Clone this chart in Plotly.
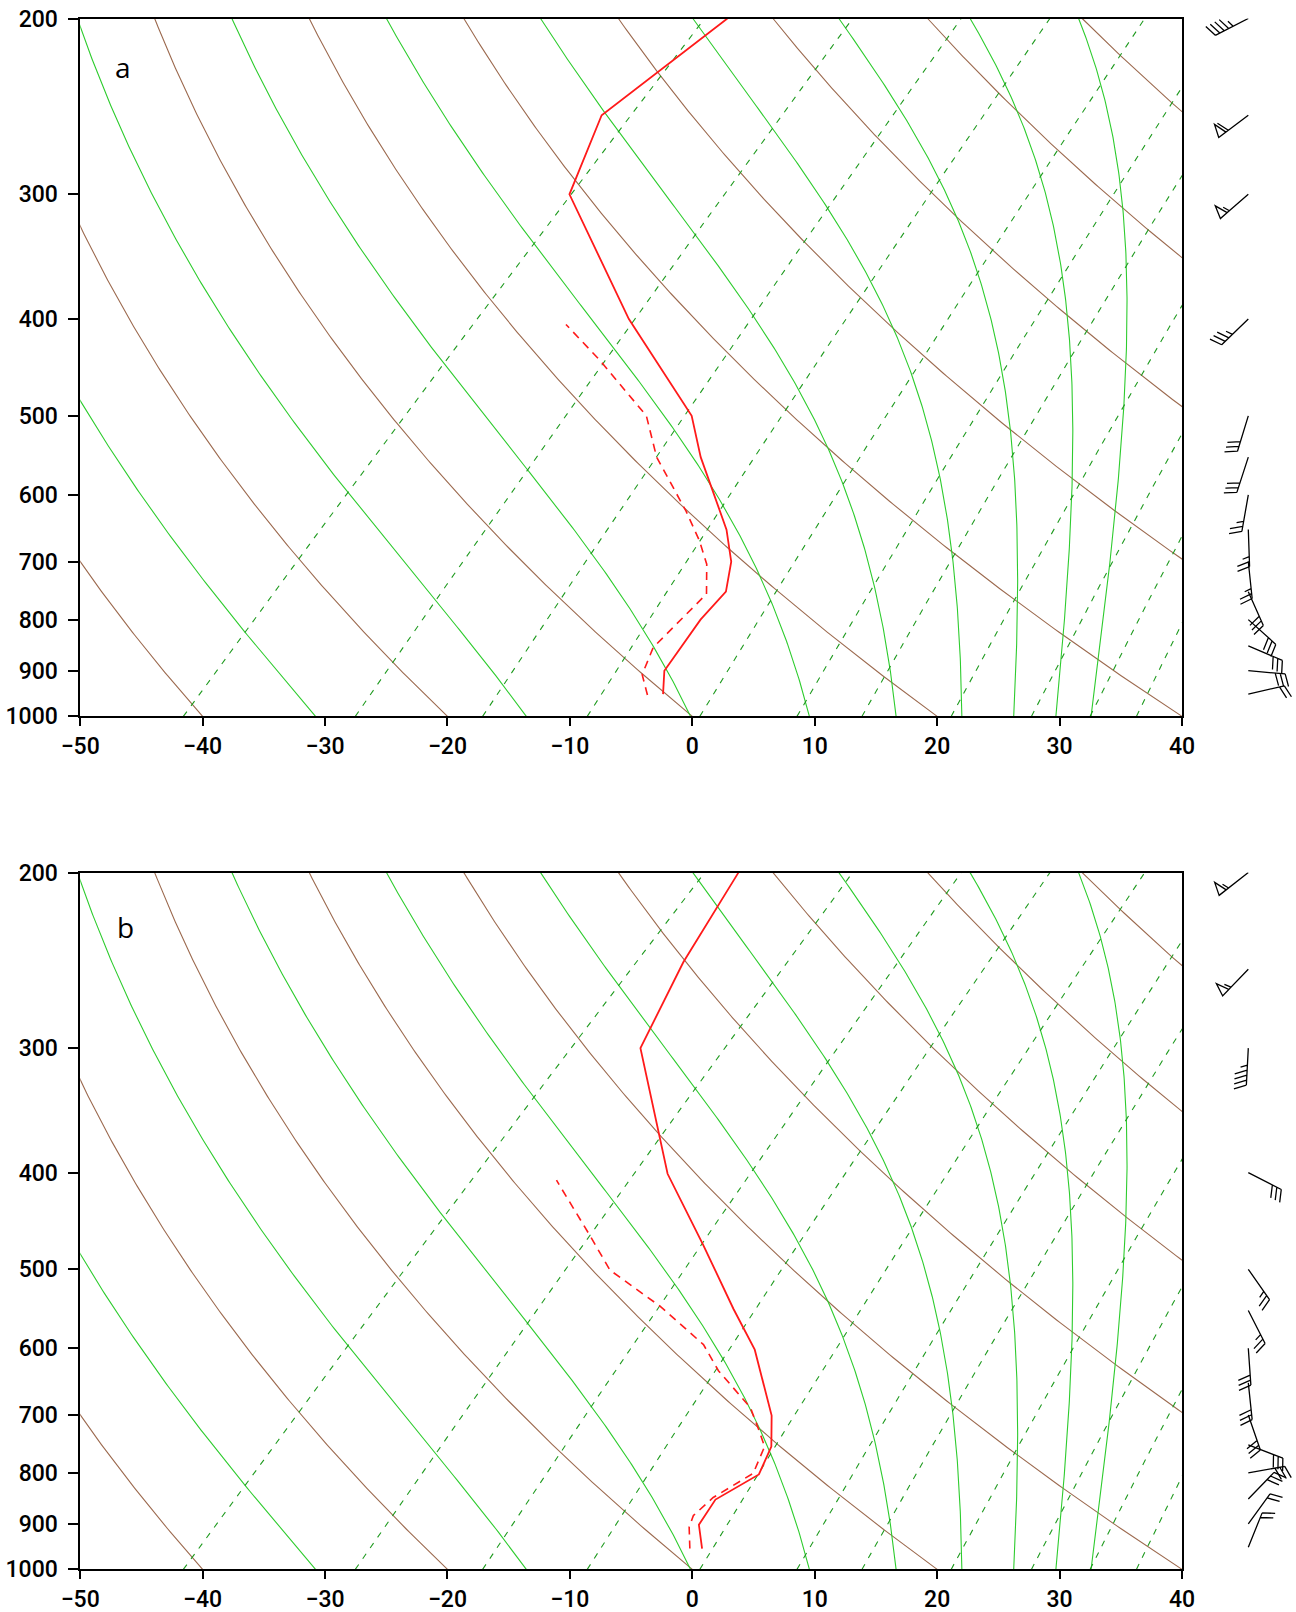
import numpy as np
import plotly.graph_objects as go

# ---------------- skew-T geometry / axes ----------------
SKEW = 35.27                      # skew of the temperature axis (°C per ln(1000/p))
P_TICKS = [200, 300, 400, 500, 600, 700, 800, 900, 1000]
P_LABELS = [str(v) for v in P_TICKS]
T_TICKS = [-50, -40, -30, -20, -10, 0, 10, 20, 30, 40]

# ---------------- background lines ----------------
DRY_THETA_C = [-40, -20, 0, 20, 40, 60, 80, 100, 120]          # dry adiabats (°C)
MOIST_THETAE_C = [-30, -10, 10, 30, 50, 70, 90, 110, 130]      # moist adiabats (theta-e, °C)
MIXR_GKG = [0.1, 0.4, 1, 2, 4, 7, 10, 16, 24, 32, 40]          # mixing ratio lines (g/kg)

# ---------------- panel a sounding ----------------
P_A_T = [950, 900, 800, 750, 700, 650, 550, 500, 400, 300, 250, 200]
T_A = [-4.2, -6.0, -7.2, -7.4, -9.4, -12.4, -20.4, -24.5, -37.5, -52.5, -56.3, -53.9]
P_A_TD = [952, 908, 853, 754, 704, 667, 623, 550, 500, 440, 405]
TD_A = [-5.4, -7.5, -8.8, -8.8, -11.2, -13.7, -17.2, -24.0, -28.2, -36.5, -42.2]

# ---------------- panel b sounding ----------------
P_B_T = [953, 902, 851, 803, 753, 701, 602, 548, 473, 401, 300, 246, 200]
T_B = [-0.9, -3.1, -3.8, -2.3, -3.55, -6.05, -12.8, -17.85, -25.5, -34.25, -46.7, -50.2, -53.0]
P_B_TD = [953, 907, 883, 847, 801, 753, 722, 688, 632, 595, 545, 501, 463, 407]
TD_B = [-1.9, -3.7, -4.3, -4.15, -2.85, -4.1, -6.1, -8.45, -14.05, -17.4, -24.0, -31.1, -35.5, -42.8]

# ---------------- winds (direction from, speed) ----------------
P_WIND = [200, 250, 300, 400, 500, 550, 600, 650, 700, 750, 800, 850, 900, 950]
DIR_A = [243, 233, 229, 226, 197, 198, 190, 178, 174, 156, 132, 113, 95, 77]
SPD_A = [45, 60, 55, 35, 30, 30, 25, 25, 25, 30, 30, 30, 30, 20]
DIR_B = [232, 224, 183, 117, 145, 153, 176, 174, 161, 111, 80, 44, 36, 22]
SPD_B = [55, 55, 45, 30, 25, 25, 30, 30, 30, 30, 30, 30, 20, 20]

# ---------------- thermodynamics ----------------
KAPPA = 0.2857
LV_CP = 2630.0


def es(tc):
    return 6.112 * np.exp(17.67 * tc / (tc + 243.5))


def skew_x(tc, p):
    return np.asarray(tc, float) + SKEW * np.log(1000.0 / np.asarray(p, float))


def dry_T(theta_c, p):
    return (theta_c + 273.15) * (p / 1000.0) ** KAPPA - 273.15


def mixr_T(w, p):
    e = w * p / (622.0 + w)
    lg = np.log(e / 6.112)
    return 243.5 * lg / (17.67 - lg)


def moist_T(thetae_c, p):
    target = thetae_c + 273.15
    lo = np.full_like(p, -130.0)
    hi = np.full_like(p, 50.0)
    for _ in range(60):
        mid = 0.5 * (lo + hi)
        T = mid + 273.15
        e = es(mid)
        rs = 0.622 * e / (p - e)
        the = T * (1000.0 / p) ** KAPPA * np.exp(LV_CP * rs / T)
        lo = np.where(the < target, mid, lo)
        hi = np.where(the >= target, mid, hi)
    return 0.5 * (lo + hi)


p_bg = np.geomspace(1000, 200, 241)

BROWN = "#9c6a4f"
GREEN = "#2ecc2e"
DGREEN = "#1f9a1f"
RED = "#ff1a1a"

# ---------------- layout geometry ----------------
W, H = 1296, 1612
X_DOM = [80.2 / W, 1182.0 / W]
YA_DOM = [1 - 716.4 / H, 1 - 18.5 / H]
YB_DOM = [1 - 1569.4 / H, 1 - 872.6 / H]
STATION_X = 1248.3 / W

fig = go.Figure()


def add_panel(xa, ya, pT, T, pTd, Td):
    for th in DRY_THETA_C:
        fig.add_trace(go.Scatter(x=skew_x(dry_T(th, p_bg), p_bg), y=p_bg, mode="lines",
                                 line=dict(color=BROWN, width=1.1), xaxis=xa, yaxis=ya,
                                 hoverinfo="skip", showlegend=False))
    for the in MOIST_THETAE_C:
        fig.add_trace(go.Scatter(x=skew_x(moist_T(the, p_bg), p_bg), y=p_bg, mode="lines",
                                 line=dict(color=GREEN, width=1.1), xaxis=xa, yaxis=ya,
                                 hoverinfo="skip", showlegend=False))
    for w in MIXR_GKG:
        fig.add_trace(go.Scatter(x=skew_x(mixr_T(w, p_bg), p_bg), y=p_bg, mode="lines",
                                 line=dict(color=DGREEN, width=1.1, dash="6px,7px"),
                                 xaxis=xa, yaxis=ya, hoverinfo="skip", showlegend=False))
    fig.add_trace(go.Scatter(x=skew_x(Td, pTd), y=pTd, mode="lines",
                             line=dict(color=RED, width=1.6, dash="8px,6px"),
                             xaxis=xa, yaxis=ya, showlegend=False))
    fig.add_trace(go.Scatter(x=skew_x(T, pT), y=pT, mode="lines",
                             line=dict(color=RED, width=1.8),
                             xaxis=xa, yaxis=ya, showlegend=False))


add_panel("x", "y", P_A_T, T_A, P_A_TD, TD_A)
add_panel("x2", "y2", P_B_T, T_B, P_B_TD, TD_B)


def barb_path(direction, speed, L=37.0, flen=13.0, gap=5.0, pw=9.0, tilt=20.0):
    az = np.radians(direction)
    ux, uy = np.sin(az), np.cos(az)
    px, py = uy, -ux
    t = np.radians(tilt)
    fx = np.cos(t) * px + np.sin(t) * ux
    fy = np.cos(t) * py + np.sin(t) * uy
    parts = [f"M0,0 L{L * ux:.2f},{L * uy:.2f}"]
    s = int(5 * round(speed / 5.0))
    n50, s = divmod(s, 50)
    n10, s = divmod(s, 10)
    n5 = s // 5
    pos = L
    for _ in range(n50):
        b1 = pos - pw
        mid = pos - 0.5 * pw
        ax_, ay_ = mid * ux + flen * px, mid * uy + flen * py
        parts.append(f"M{pos * ux:.2f},{pos * uy:.2f} L{ax_:.2f},{ay_:.2f} "
                     f"L{b1 * ux:.2f},{b1 * uy:.2f} Z")
        pos = b1 - gap * 0.6
    for _ in range(n10):
        parts.append(f"M{pos * ux:.2f},{pos * uy:.2f} L{pos * ux + flen * fx:.2f},{pos * uy + flen * fy:.2f}")
        pos -= gap
    for _ in range(n5):
        if n50 == 0 and n10 == 0:
            pos -= gap
        parts.append(f"M{pos * ux:.2f},{pos * uy:.2f} "
                     f"L{pos * ux + 0.55 * flen * fx:.2f},{pos * uy + 0.55 * flen * fy:.2f}")
        pos -= gap
    return " ".join(parts)


shapes = []
for yref, dirs, spds in (("y", DIR_A, SPD_A), ("y2", DIR_B, SPD_B)):
    for p, d, s in zip(P_WIND, dirs, spds):
        shapes.append(dict(type="path", xref="paper", yref=yref, xsizemode="pixel",
                           ysizemode="pixel", xanchor=STATION_X, yanchor=p,
                           path=barb_path(d, s), line=dict(color="black", width=1.3)))

TICKFONT = dict(family="Roboto, Liberation Sans, Arial, sans-serif", size=23, color="black",
                weight=500)


def xaxis_cfg(anchor):
    return dict(domain=X_DOM, range=[-50, 40], tickmode="array", tickvals=T_TICKS,
                ticks="outside", ticklen=8, tickwidth=1.5, tickcolor="black",
                showline=True, linewidth=1.5, linecolor="black", mirror=True,
                showgrid=False, zeroline=False, anchor=anchor, tickfont=TICKFONT,
                ticklabelstandoff=0, automargin=False, fixedrange=True)


def yaxis_cfg(dom, anchor):
    return dict(domain=dom, type="log", range=[3, np.log10(200)], tickmode="array",
                tickvals=P_TICKS, ticktext=P_LABELS, ticks="outside", ticklen=10,
                tickwidth=1.5, tickcolor="black", showline=True, linewidth=1.5,
                linecolor="black", mirror=True, showgrid=False, zeroline=False,
                anchor=anchor, tickfont=TICKFONT, ticklabelstandoff=6,
                automargin=False, fixedrange=True)


fig.update_layout(
    width=W, height=H, margin=dict(l=0, r=0, t=0, b=0, pad=0, autoexpand=False),
    paper_bgcolor="white", plot_bgcolor="white", showlegend=False,
    xaxis=xaxis_cfg("y"), yaxis=yaxis_cfg(YA_DOM, "x"),
    xaxis2=xaxis_cfg("y2"), yaxis2=yaxis_cfg(YB_DOM, "x2"),
    shapes=shapes,
    annotations=[
        dict(text="a", x=123 / W, y=1 - 67 / H, xref="paper", yref="paper", showarrow=False,
             xanchor="center", yanchor="middle",
             font=dict(family="Open Sans, sans-serif", size=28, color="black")),
        dict(text="b", x=125 / W, y=1 - 927 / H, xref="paper", yref="paper", showarrow=False,
             xanchor="center", yanchor="middle",
             font=dict(family="Open Sans, sans-serif", size=28, color="black")),
    ],
)

fig.write_html("out.html")
